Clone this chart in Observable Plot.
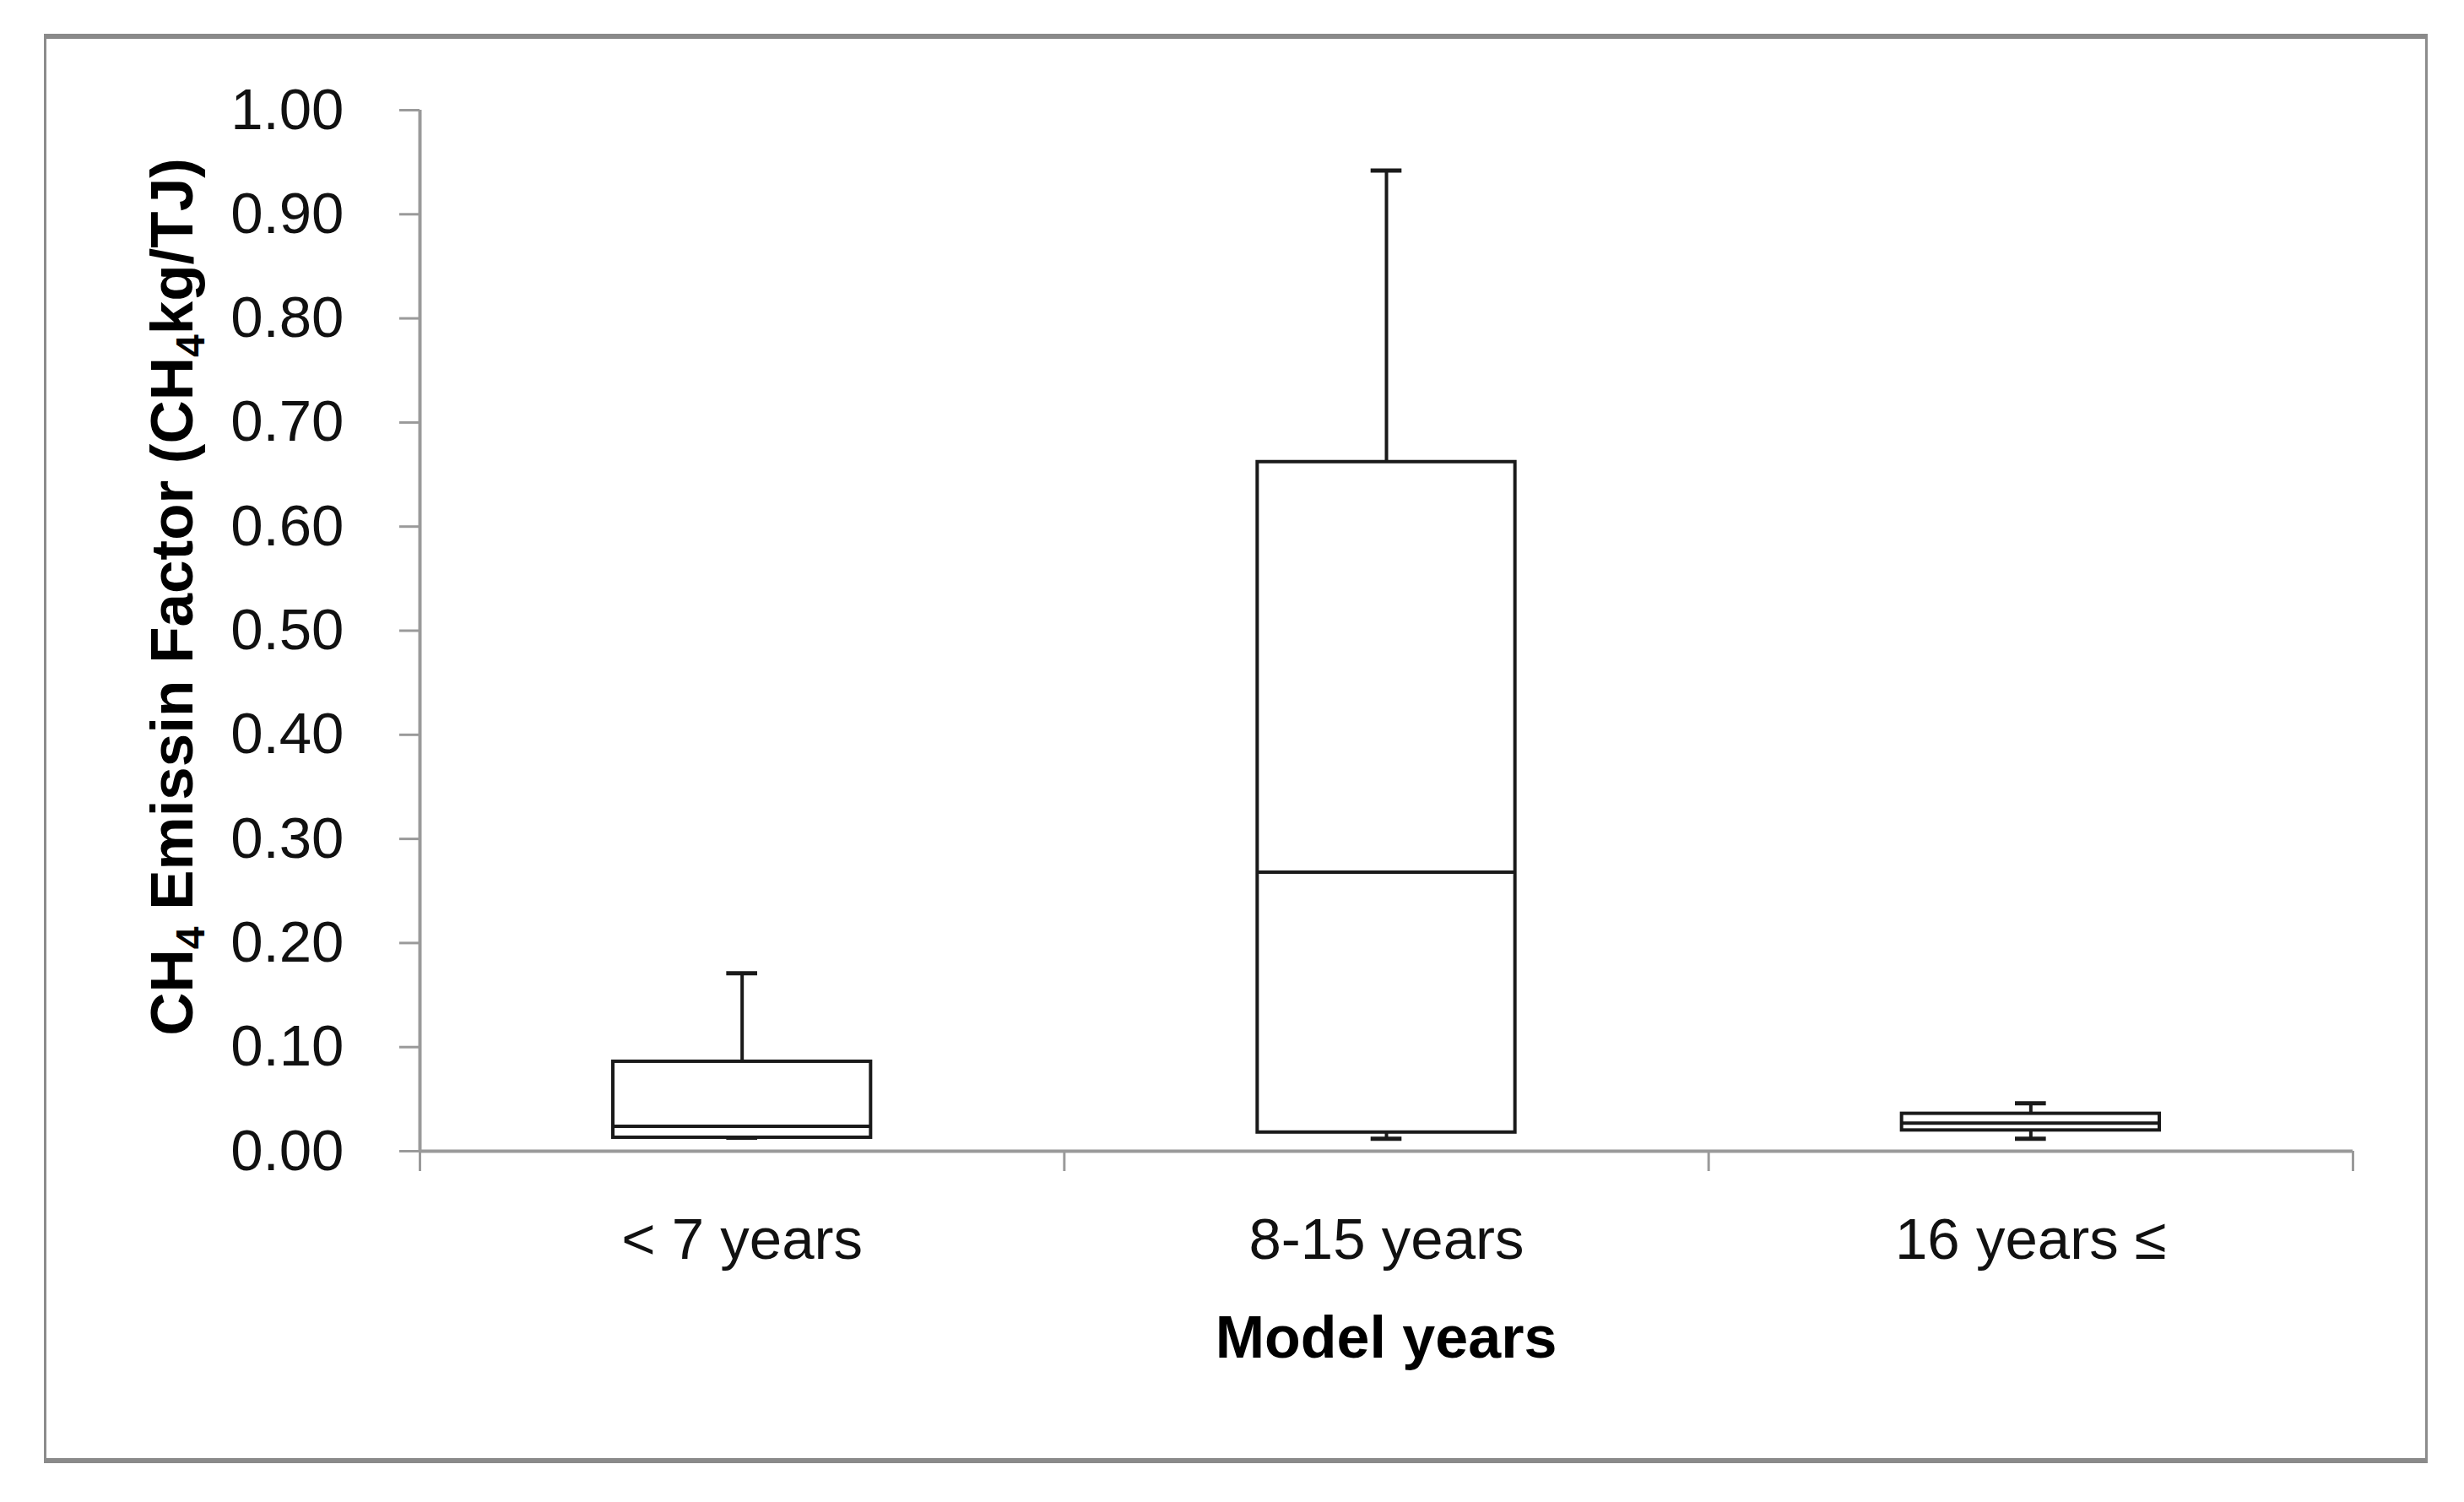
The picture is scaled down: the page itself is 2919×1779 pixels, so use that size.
<!DOCTYPE html>
<html>
<head>
<meta charset="utf-8">
<script src="https://cdn.jsdelivr.net/npm/d3@7"></script>
<script src="https://cdn.jsdelivr.net/npm/@observablehq/plot@0.6"></script>
<style>
  html, body { margin: 0; padding: 0; background: #fff; }
  #wrap { position: relative; width: 2919px; height: 1779px; overflow: hidden; background: #fff; }
  #frame { position: absolute; left: 52px; top: 40px; width: 2818px; height: 1681px;
           border-left: 3px solid #8c8c8c; border-right: 3px solid #8c8c8c;
           border-top: 6px solid #8a8a8a; border-bottom: 6px solid #8a8a8a; }
  #chart { position: absolute; left: 0; top: 0; }
</style>
</head>
<body>
<div id="wrap"><div id="frame"></div><div id="chart"></div></div>
<script>
const categories = ["< 7 years", "8-15 years", "16 years \u2264"];
const whiskerLow  = [0.013, 0.012, 0.012];
const q1          = [0.013, 0.018, 0.020];
const median      = [0.024, 0.268, 0.027];
const q3          = [0.086, 0.662, 0.036];
const whiskerHigh = [0.171, 0.942, 0.046];
const yTicks = [0, 0.1, 0.2, 0.3, 0.4, 0.5, 0.6, 0.7, 0.8, 0.9, 1.0];

const data = categories.map((c, i) => ({
  cat: c, i, low: whiskerLow[i], q1: q1[i], med: median[i], q3: q3[i], high: whiskerHigh[i]
}));

const boxHalf = 0.2, capHalf = 0.024;
const boxStroke = "#1a1a1a";
const axisGray = "#9a9a9a";

const chart = Plot.plot({
  width: 2919,
  height: 1779,
  marginLeft: 497,
  marginRight: 132,
  marginTop: 130,
  marginBottom: 416,
  style: { fontFamily: "Liberation Sans, Arial, sans-serif", fontSize: "69px", color: "#111", background: "transparent" },
  x: { type: "linear", domain: [0, 3] },
  y: { domain: [0, 1] },
  marks: [
    // y axis
    Plot.axisY({ ticks: yTicks, tickFormat: d3.format(".2f"), tickSize: 24, tickPadding: 66,
                 stroke: axisGray, strokeWidth: 3, label: null, fill: "#111" }),
    // x boundary ticks
    Plot.axisX({ ticks: [0, 1, 2, 3], tickSize: 24, tickFormat: () => "", stroke: axisGray, strokeWidth: 3, label: null }),
    // x category labels
    Plot.axisX({ ticks: data.map(d => d.i + 0.5), tickSize: 0, tickPadding: 78,
                 tickFormat: v => categories[Math.round(v - 0.5)], label: null, fill: "#111" }),
    Plot.ruleX([0], { y1: 0, y2: 1, stroke: axisGray, strokeWidth: 4 }),
    Plot.ruleY([0], { x1: 0, x2: 3, stroke: axisGray, strokeWidth: 4 }),
    // whiskers
    Plot.ruleX(data, { x: d => d.i + 0.5, y1: "q3", y2: "high", stroke: boxStroke, strokeWidth: 4 }),
    Plot.ruleX(data, { x: d => d.i + 0.5, y1: "low", y2: "q1", stroke: boxStroke, strokeWidth: 4 }),
    Plot.ruleY(data, { y: "high", x1: d => d.i + 0.5 - capHalf, x2: d => d.i + 0.5 + capHalf, stroke: boxStroke, strokeWidth: 5 }),
    Plot.ruleY(data, { y: "low", x1: d => d.i + 0.5 - capHalf, x2: d => d.i + 0.5 + capHalf, stroke: boxStroke, strokeWidth: 5 }),
    // boxes
    Plot.rect(data, { x1: d => d.i + 0.5 - boxHalf, x2: d => d.i + 0.5 + boxHalf, y1: "q1", y2: "q3",
                      fill: "white", stroke: boxStroke, strokeWidth: 4 }),
    Plot.ruleY(data, { y: "med", x1: d => d.i + 0.5 - boxHalf, x2: d => d.i + 0.5 + boxHalf, stroke: boxStroke, strokeWidth: 4 })
  ]
});

document.getElementById("chart").appendChild(chart);

// Axis titles
const svg = d3.select(chart);
const xt = svg.append("text")
  .attr("x", (497 + 2787) / 2).attr("y", 1608)
  .attr("text-anchor", "middle")
  .attr("font-family", "Liberation Sans, Arial, sans-serif")
  .attr("font-weight", "bold").attr("font-size", 70).attr("fill", "#000")
  .text("Model years");

const yt = svg.append("text")
  .attr("transform", "translate(228,707) rotate(-90)")
  .attr("text-anchor", "middle")
  .attr("font-family", "Liberation Sans, Arial, sans-serif")
  .attr("font-weight", "bold").attr("font-size", 71).attr("fill", "#000");
yt.append("tspan").text("CH");
yt.append("tspan").attr("font-size", 48).attr("dy", 14).text("4");
yt.append("tspan").attr("dy", -14).text(" Emissin Factor (CH");
yt.append("tspan").attr("font-size", 48).attr("dy", 14).text("4");
yt.append("tspan").attr("dy", -14).text("kg/TJ)");
</script>
</body>
</html>
